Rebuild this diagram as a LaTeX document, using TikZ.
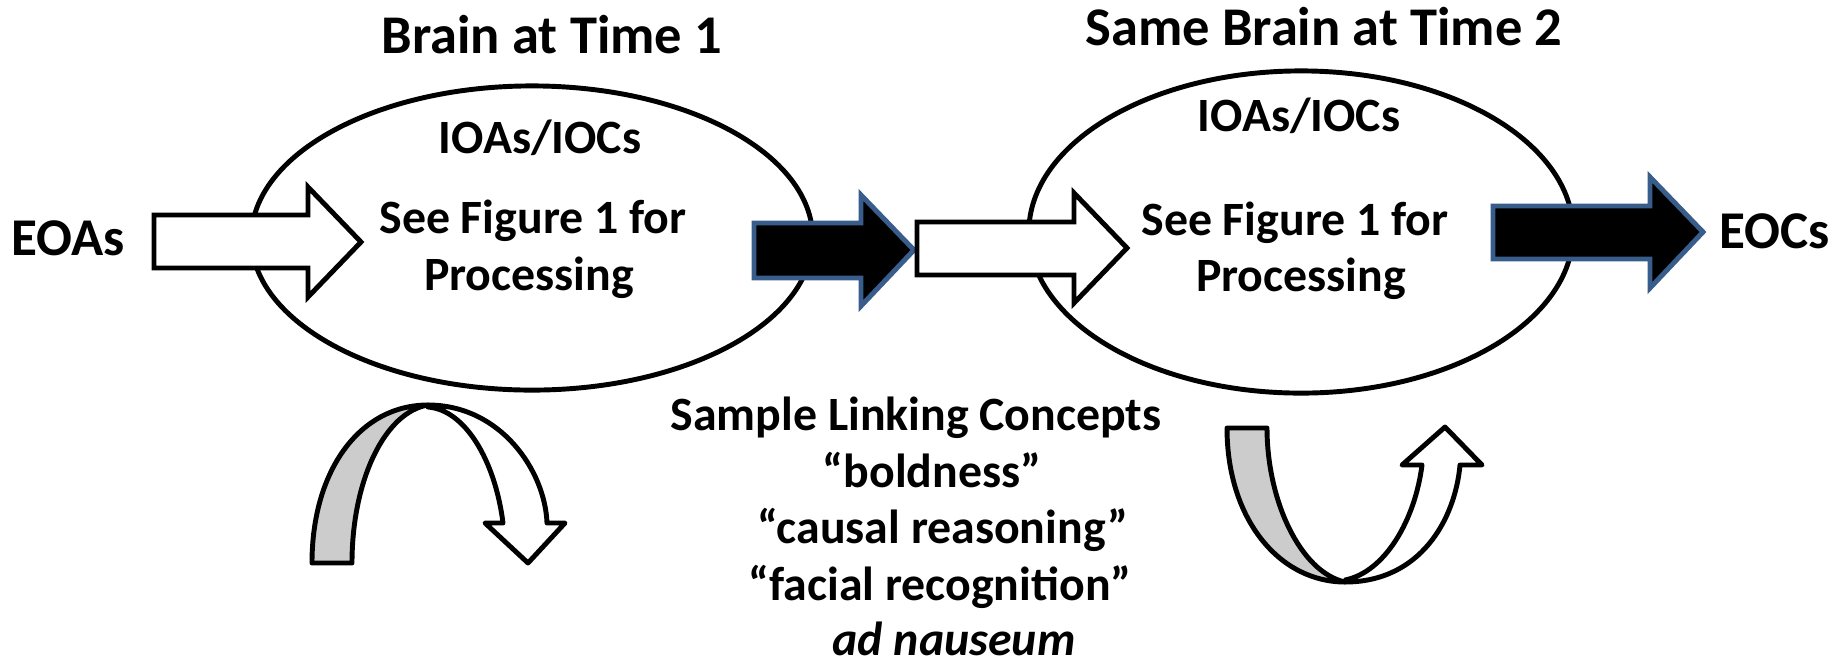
\documentclass[tikz,border=0pt]{standalone}
\usepackage{fontspec}
\setmainfont{Carlito}
\usetikzlibrary{shapes.geometric}
\definecolor{outlineblue}{RGB}{56,93,138}
\tikzset{
  brain/.style={ellipse, draw, line width=1.4pt, minimum width=5.61cm, minimum height=3.04cm, inner sep=0pt},
  txt/.style={font=\fontsize{13.6pt}{16pt}\selectfont\bfseries, anchor=base, inner sep=0pt},
  head/.style={font=\fontsize{15.5pt}{18pt}\selectfont\bfseries, anchor=base, inner sep=0pt},
  side/.style={font=\fontsize{15.1pt}{18pt}\selectfont\bfseries, anchor=base, inner sep=0pt},
  inarrow/.style={draw=black, fill=white, line width=1.4pt},
  outarrow/.style={draw=outlineblue, fill=black, line width=1.4pt},
  backband/.style={draw, fill=gray!40, line width=1.4pt, line join=round},
  frontband/.style={draw, fill=white, line width=1.4pt, line join=round}
}
\begin{document}
\begin{tikzpicture}[x=0.01cm, y=-0.01cm]
		\useasboundingbox (0,0) rectangle (1843,663);
		% the two brains
		\node at (532,238) [brain] (B1) {};
		\node at (1301,232) [brain, minimum width=5.44cm, minimum height=3.22cm] (B2) {};
		\node at (552,53) [head] (T1) {Brain at Time 1};
		\node at (1324,45) [head] (T2) {Same Brain at Time 2};
		\node at (540,153) [txt] (I1) {IOAs/IOCs};
		\node at (533,233) [txt] (S1) {See Figure 1 for};
		\node at (529,290) [txt] (P1) {Processing};
		\node at (1299,131) [txt] (I2) {IOAs/IOCs};
		\node at (1295,235) [txt] (S2) {See Figure 1 for};
		\node at (1301,291) [txt] (P2) {Processing};
		\node at (68,255) [side] (EOA) {EOAs};
		\node at (1775,248) [side] (EOC) {EOCs};
		% block arrows
		\draw[inarrow] (154,215) -- (308,215) -- (308,187) -- (361,242) -- (308,297) -- (308,268) -- (154,268) -- cycle;
		\draw[outarrow] (754,223) -- (861,223) -- (861,195) -- (914,250) -- (861,306) -- (861,278) -- (754,278) -- cycle;
		\draw[inarrow] (917,222) -- (1074,222) -- (1074,193) -- (1127,248) -- (1074,303) -- (1074,275) -- (917,275) -- cycle;
		\draw[outarrow] (1493,206) -- (1650,206) -- (1650,177) -- (1703,232) -- (1650,288) -- (1650,259) -- (1493,259) -- cycle;
		% linking concepts
		\node at (916,430) [txt] (L0) {Sample Linking Concepts};
		\node at (932,487) [txt] (L1) {“boldness”};
		\node at (943,543) [txt] (L2) {“causal reasoning”};
		\node at (940,600) [txt] (L3) {“facial recognition”};
		\node at (954,655) [txt, font=\fontsize{13.6pt}{16pt}\selectfont\bfseries\itshape] (L4) {ad nauseum};
		% turning arrows
		\draw[backband] (312,563) .. controls (312,470) and (360,405) .. (428,405) .. controls (385,412) and (352,480) .. (352,563) -- cycle;
		\draw[frontband] (428,405) .. controls (500,405) and (545,470) .. (547,523) -- (565,523) -- (528,563) -- (485,523) -- (503,523) .. controls (495,460) and (465,410) .. (428,407) -- cycle;
		\draw[backband] (1227,428) .. controls (1227,520) and (1280,582) .. (1345,582) .. controls (1300,572) and (1267,500) .. (1267,428) -- cycle;
		\draw[frontband] (1345,582) .. controls (1420,582) and (1455,520) .. (1460,465) -- (1482,465) -- (1445,427) -- (1402,465) -- (1422,465) .. controls (1415,520) and (1385,572) .. (1345,580) -- cycle;
\end{tikzpicture}
\end{document}
